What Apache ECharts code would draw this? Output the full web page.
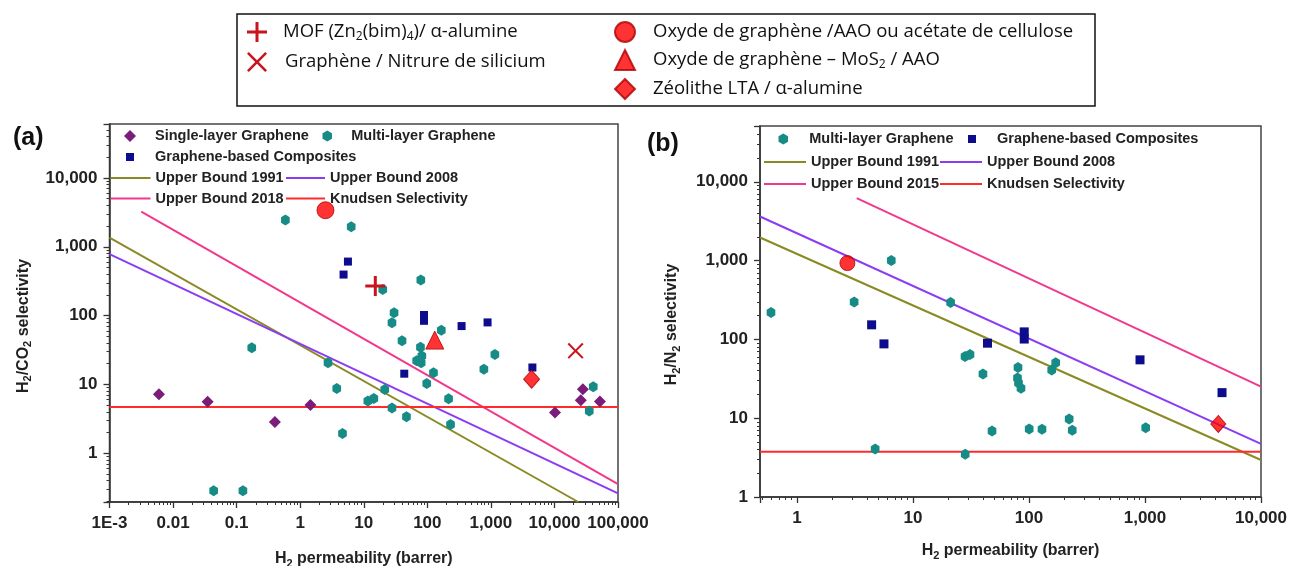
<!DOCTYPE html>
<html><head><meta charset="utf-8">
<script src="https://cdn.jsdelivr.net/npm/echarts/dist/echarts.min.js"></script>
<style>html,body{margin:0;padding:0;background:#fff}#c{width:1289px;height:566px}</style>
</head><body><div id="c"></div>
<script>
// ---------- DATA ----------
// Panel (a): H2 permeability (barrer) vs H2/CO2 selectivity
const singleLayerA = [[0.006,7.2],[0.035,5.6],[0.40,2.85],[1.45,5.0],[10200,3.9],[28000,8.5],[26000,5.9],[52000,5.65]];
const multiLayerA = [[0.585,2450],[6.35,1960],[79,328],[19.9,239],[30,110],[27.8,79],[166,61],[0.173,34.2],[40,43],[78,34.8],[82,25.8],[68,22],[80,20.6],[1156,27.3],[2.74,20.6],[776,16.6],[125,14.7],[98,10.3],[3.76,8.7],[21.4,8.45],[11.6,5.74],[14.4,6.25],[27.8,4.54],[216,6.16],[47,3.37],[232,2.62],[4.63,1.93],[40800,9.2],[35300,4.11],[0.0435,0.283],[0.1256,0.283]];
const compositesA = [[5.64,610],[4.81,395],[88.7,102],[88.7,84],[346,70.4],[887,79.6],[43.4,14.3],[4500,17.6]];
const mofA = [[15.2,269]];
const grapheneSiNA = [[21500,30.7]];
const goAaoA = [[2.5,3400]];
const goMoS2A = [[131,44]];
const ltaA = [[4370,11.9]];
const ub1991A = [[0.001,1360],[23700,0.195]];
const ub2008A = [[0.001,785],[100000,0.26]];
const ub2018A = [[0.00316,3235],[100000,0.354]];
const knudsenA = [[0.001,4.69],[100000,4.69]];

// Panel (b): H2 permeability (barrer) vs H2/N2 selectivity
const multiLayerB = [[0.597,219],[3.11,297],[6.5,1000],[21.1,293],[28.1,60.8],[31,64.5],[40.1,36.3],[80.4,44.1],[79.6,32.4],[81.2,28],[85.3,23.9],[157,41],[170,50.7],[48,6.89],[100.4,7.3],[129.5,7.24],[222,9.78],[236,7.03],[1014,7.59],[4.72,4.07],[28.2,3.49]];
const compositesB = [[4.4,153],[5.62,87.7],[43.9,89.5],[91,124.5],[91,101],[906,55],[4613,21.1]];
const goAaoB = [[2.72,929]];
const ltaB = [[4285,8.45]];
const ub1991B = [[0.48,1963],[10000,2.95]];
const ub2008B = [[0.48,3624],[10000,4.71]];
const ub2015B = [[3.27,6210],[10000,25.2]];
const knudsenB = [[0.48,3.74],[10000,3.74]];

// Axis ranges
const xRangeA = [0.001, 100000], yRangeA = [0.195, 61000];
const xRangeB = [0.48, 10000],  yRangeB = [1, 51000];

// Names
const N = {
  single: 'Single-layer Graphene', multi: 'Multi-layer Graphene', comp: 'Graphene-based Composites',
  u91: 'Upper Bound 1991', u08: 'Upper Bound 2008', u18: 'Upper Bound 2018', u15: 'Upper Bound 2015', kn: 'Knudsen Selectivity',
  mof: 'MOF (Zn2(bim)4)/ α-alumine', sin: 'Graphène / Nitrure de silicium',
  go: 'Oxyde de graphène /AAO ou acétate de cellulose', mos: 'Oxyde de graphène – MoS2 / AAO', lta: 'Zéolithe LTA / α-alumine'
};
const richNames = {};
richNames[N.mof] = 'MOF (Zn{s|2}(bim){s|4})/ α-alumine';
richNames[N.mos] = 'Oxyde de graphène – MoS{s|2} / AAO';

// ---------- STYLE ----------
const FONT = '"Liberation Sans", Arial, sans-serif';
const FONT2 = '"Open Sans", "Noto Sans", sans-serif';
const HEX = 'path://M50 0 L93.3 25 L93.3 75 L50 100 L6.7 75 L6.7 25 Z';
const PLUS = 'path://M8.5 0 H11.5 V8.5 H20 V11.5 H11.5 V20 H8.5 V11.5 H0 V8.5 H8.5 Z';
const CROSS = 'path://M0 1.8 L1.8 0 L10 8.2 L18.2 0 L20 1.8 L11.8 10 L20 18.2 L18.2 20 L10 11.8 L1.8 20 L0 18.2 L8.2 10 Z';
const C = { teal:'#178c87', purp:'#7a1c7a', navy:'#0c0c8c', olive:'#8a8a24', violet:'#8b3cf2', pink:'#f2388c', kn:'#ff2b2b', red:'#ff0000', dred:'#c8141c' };

function tickLabel(v){
  const e = Math.log10(v), r = Math.round(e);
  if (Math.abs(e - r) > 1e-6) return '';
  if (r === -3) return '1E-3';
  if (r < 0) return Math.pow(10, r).toFixed(-r);
  return String(Math.round(Math.pow(10, r))).replace(/\B(?=(\d{3})+(?!\d))/g, ',');
}
const subRich = { s: { fontSize: 11, fontWeight: 'bold', fontFamily: FONT, verticalAlign: 'bottom', lineHeight: 12, color: '#222' } };

function axis(gi, range, name, gap, isY) {
  return {
    type: 'log', gridIndex: gi, min: range[0], max: range[1],
    name: name, nameLocation: 'middle', nameGap: gap, nameRotate: isY ? 90 : 0,
    nameTextStyle: { fontFamily: FONT, fontWeight: 'bold', fontSize: 16, color: '#222', lineHeight: 20,
      padding: isY ? [0, 26, 0, 0] : 0, rich: subRich },
    axisLine: { show: true, onZero: false, lineStyle: { color: '#333', width: 1.5 } },
    axisTick: { show: true, length: 6, lineStyle: { color: '#333', width: 1.3 } },
    minorTick: { show: true, splitNumber: 9, length: 3, lineStyle: { color: '#333', width: 1 } },
    axisLabel: { formatter: tickLabel, fontFamily: FONT, fontWeight: 'bold', fontSize: 17, color: '#222',
      margin: isY ? 12 : 13, showMinLabel: true, showMaxLabel: true },
    splitLine: { show: false }
  };
}
function scat(name, data, gi, symbol, size, color, extra) {
  return Object.assign({ type: 'scatter', name, data, xAxisIndex: gi, yAxisIndex: gi, symbol, symbolSize: size,
    symbolKeepAspect: true, itemStyle: { color, opacity: 1 }, z: 5, animation: false }, extra || {});
}
function ln(name, data, gi, color) {
  return { type: 'line', name, data, xAxisIndex: gi, yAxisIndex: gi, symbol: 'none', showSymbol: false,
    lineStyle: { color, width: 2 }, itemStyle: { color }, z: 2, animation: false };
}
const legText = { fontFamily: FONT, fontWeight: 'bold', fontSize: 14.5, color: '#222', lineHeight: 16 };
// symbol legend item: icon centred at cx, text starting at tx, row centre y
function legSym(name, cx, tx, y, s) {
  const left = cx - s / 2;
  return { data: [name], left, top: y - 8, padding: 0, itemWidth: s, itemHeight: s, selectedMode: false,
    textStyle: Object.assign({ padding: [0, 0, 0, tx - (left + s + 5)] }, legText) };
}
// line legend item: line from x0 to x1, row centre y
function legLine(name, x0, x1, y) {
  return { data: [name], left: x0, top: y - 8, padding: 0, itemWidth: x1 - x0, itemHeight: 2, icon: 'rect',
    selectedMode: false, textStyle: Object.assign({}, legText) };
}
function topLeg(name, cx, tx, y) {
  const s = 20, left = cx - s / 2;
  return { data: [name], left, top: y - 11, padding: 0, itemWidth: s, itemHeight: s, selectedMode: false,
    formatter: n => richNames[n] || n,
    textStyle: { fontFamily: FONT2, fontSize: 18.5, color: '#111', lineHeight: 22, padding: [0, 0, 0, tx - (left + s + 5)],
      rich: { s: { fontFamily: FONT2, fontSize: 12, color: '#111', verticalAlign: 'bottom', lineHeight: 12 } } } };
}

const redEdge = { borderColor: '#b00000', borderWidth: 1 };

const option = {
  animation: false,
  title: [
    { text: '(a)', left: 13, top: 126, padding: 0, textStyle: { fontFamily: FONT, fontWeight: 'bold', fontSize: 25, color: '#111' } },
    { text: '(b)', left: 647, top: 132, padding: 0, textStyle: { fontFamily: FONT, fontWeight: 'bold', fontSize: 25, color: '#111' } }
  ],
  grid: [
    { left: 109.5, top: 124, width: 508.5, height: 378, outerBoundsMode: 'none', containLabel: false,
      show: true, borderColor: '#444', borderWidth: 1.5, backgroundColor: 'transparent' },
    { left: 760, top: 126, width: 501, height: 371, outerBoundsMode: 'none', containLabel: false,
      show: true, borderColor: '#444', borderWidth: 1.5, backgroundColor: 'transparent' }
  ],
  xAxis: [
    axis(0, xRangeA, 'H{s|2} permeability (barrer)', 47, false),
    axis(1, xRangeB, 'H{s|2} permeability (barrer)', 44, false)
  ],
  yAxis: [
    axis(0, yRangeA, 'H{s|2}/CO{s|2} selectivity', 76, true),
    axis(1, yRangeB, 'H{s|2}/N{s|2} selectivity', 78, true)
  ],
  legend: [
    // panel (a)
    legSym(N.single, 130, 155, 136, 12),
    legSym(N.multi, 328, 352, 136, 11),
    legSym(N.comp, 130, 155, 157, 8),
    legLine(N.u91, 110.5, 150.5, 178),
    legLine(N.u08, 286, 325, 178),
    legLine(N.u18, 110.5, 150.5, 198.5),
    legLine(N.kn, 286, 325, 198.5),
    // panel (b)
    legSym(N.multi, 784, 810, 139, 11),
    legSym(N.comp, 972, 997, 139, 8),
    legLine(N.u91, 764, 806, 162),
    legLine(N.u08, 940, 982, 162),
    legLine(N.u15, 764, 806, 184),
    legLine(N.kn, 940, 982, 184),
    // top box
    topLeg(N.mof, 257, 283, 32),
    topLeg(N.sin, 257, 285, 62),
    topLeg(N.go, 624, 652, 32),
    topLeg(N.mos, 624, 652, 60),
    topLeg(N.lta, 624, 652, 89)
  ],
  graphic: [
    { type: 'rect', shape: { x: 237, y: 14, width: 858, height: 92 }, style: { fill: 'none', stroke: '#111', lineWidth: 1.5 }, silent: true }
  ],
  series: [
    // panel (a) lines
    ln(N.u91, ub1991A, 0, C.olive),
    ln(N.u08, ub2008A, 0, C.violet),
    ln(N.u18, ub2018A, 0, C.pink),
    ln(N.kn, knudsenA, 0, C.kn),
    // panel (b) lines
    ln(N.u91, ub1991B, 1, C.olive),
    ln(N.u08, ub2008B, 1, C.violet),
    ln(N.u15, ub2015B, 1, C.pink),
    ln(N.kn, knudsenB, 1, C.kn),
    // panel (a) points
    scat(N.single, singleLayerA, 0, 'diamond', 12, C.purp),
    scat(N.multi, multiLayerA, 0, HEX, [10, 11], C.teal),
    scat(N.comp, compositesA, 0, 'rect', 8, C.navy),
    scat(N.mof, mofA, 0, PLUS, 20, C.dred),
    scat(N.sin, grapheneSiNA, 0, CROSS, 16, C.dred),
    scat(N.go, goAaoA, 0, 'circle', 17, C.red, { itemStyle: Object.assign({ color: C.red }, redEdge) }),
    scat(N.mos, goMoS2A, 0, 'triangle', 18, C.red, { itemStyle: Object.assign({ color: C.red }, redEdge) }),
    scat(N.lta, ltaA, 0, 'diamond', [16, 18], C.red, { itemStyle: Object.assign({ color: C.red }, redEdge) }),
    // panel (b) points
    scat(N.multi, multiLayerB, 1, HEX, [10, 11], C.teal),
    scat(N.comp, compositesB, 1, 'rect', 9, C.navy),
    scat(N.go, goAaoB, 1, 'circle', 15, C.red, { itemStyle: Object.assign({ color: C.red }, redEdge) }),
    scat(N.lta, ltaB, 1, 'diamond', [15, 17], C.red, { itemStyle: Object.assign({ color: C.red }, redEdge) })
  ]
};
const chart = echarts.init(document.getElementById('c'), null, { renderer: 'canvas' });
chart.setOption(option);
</script>
</body></html>
